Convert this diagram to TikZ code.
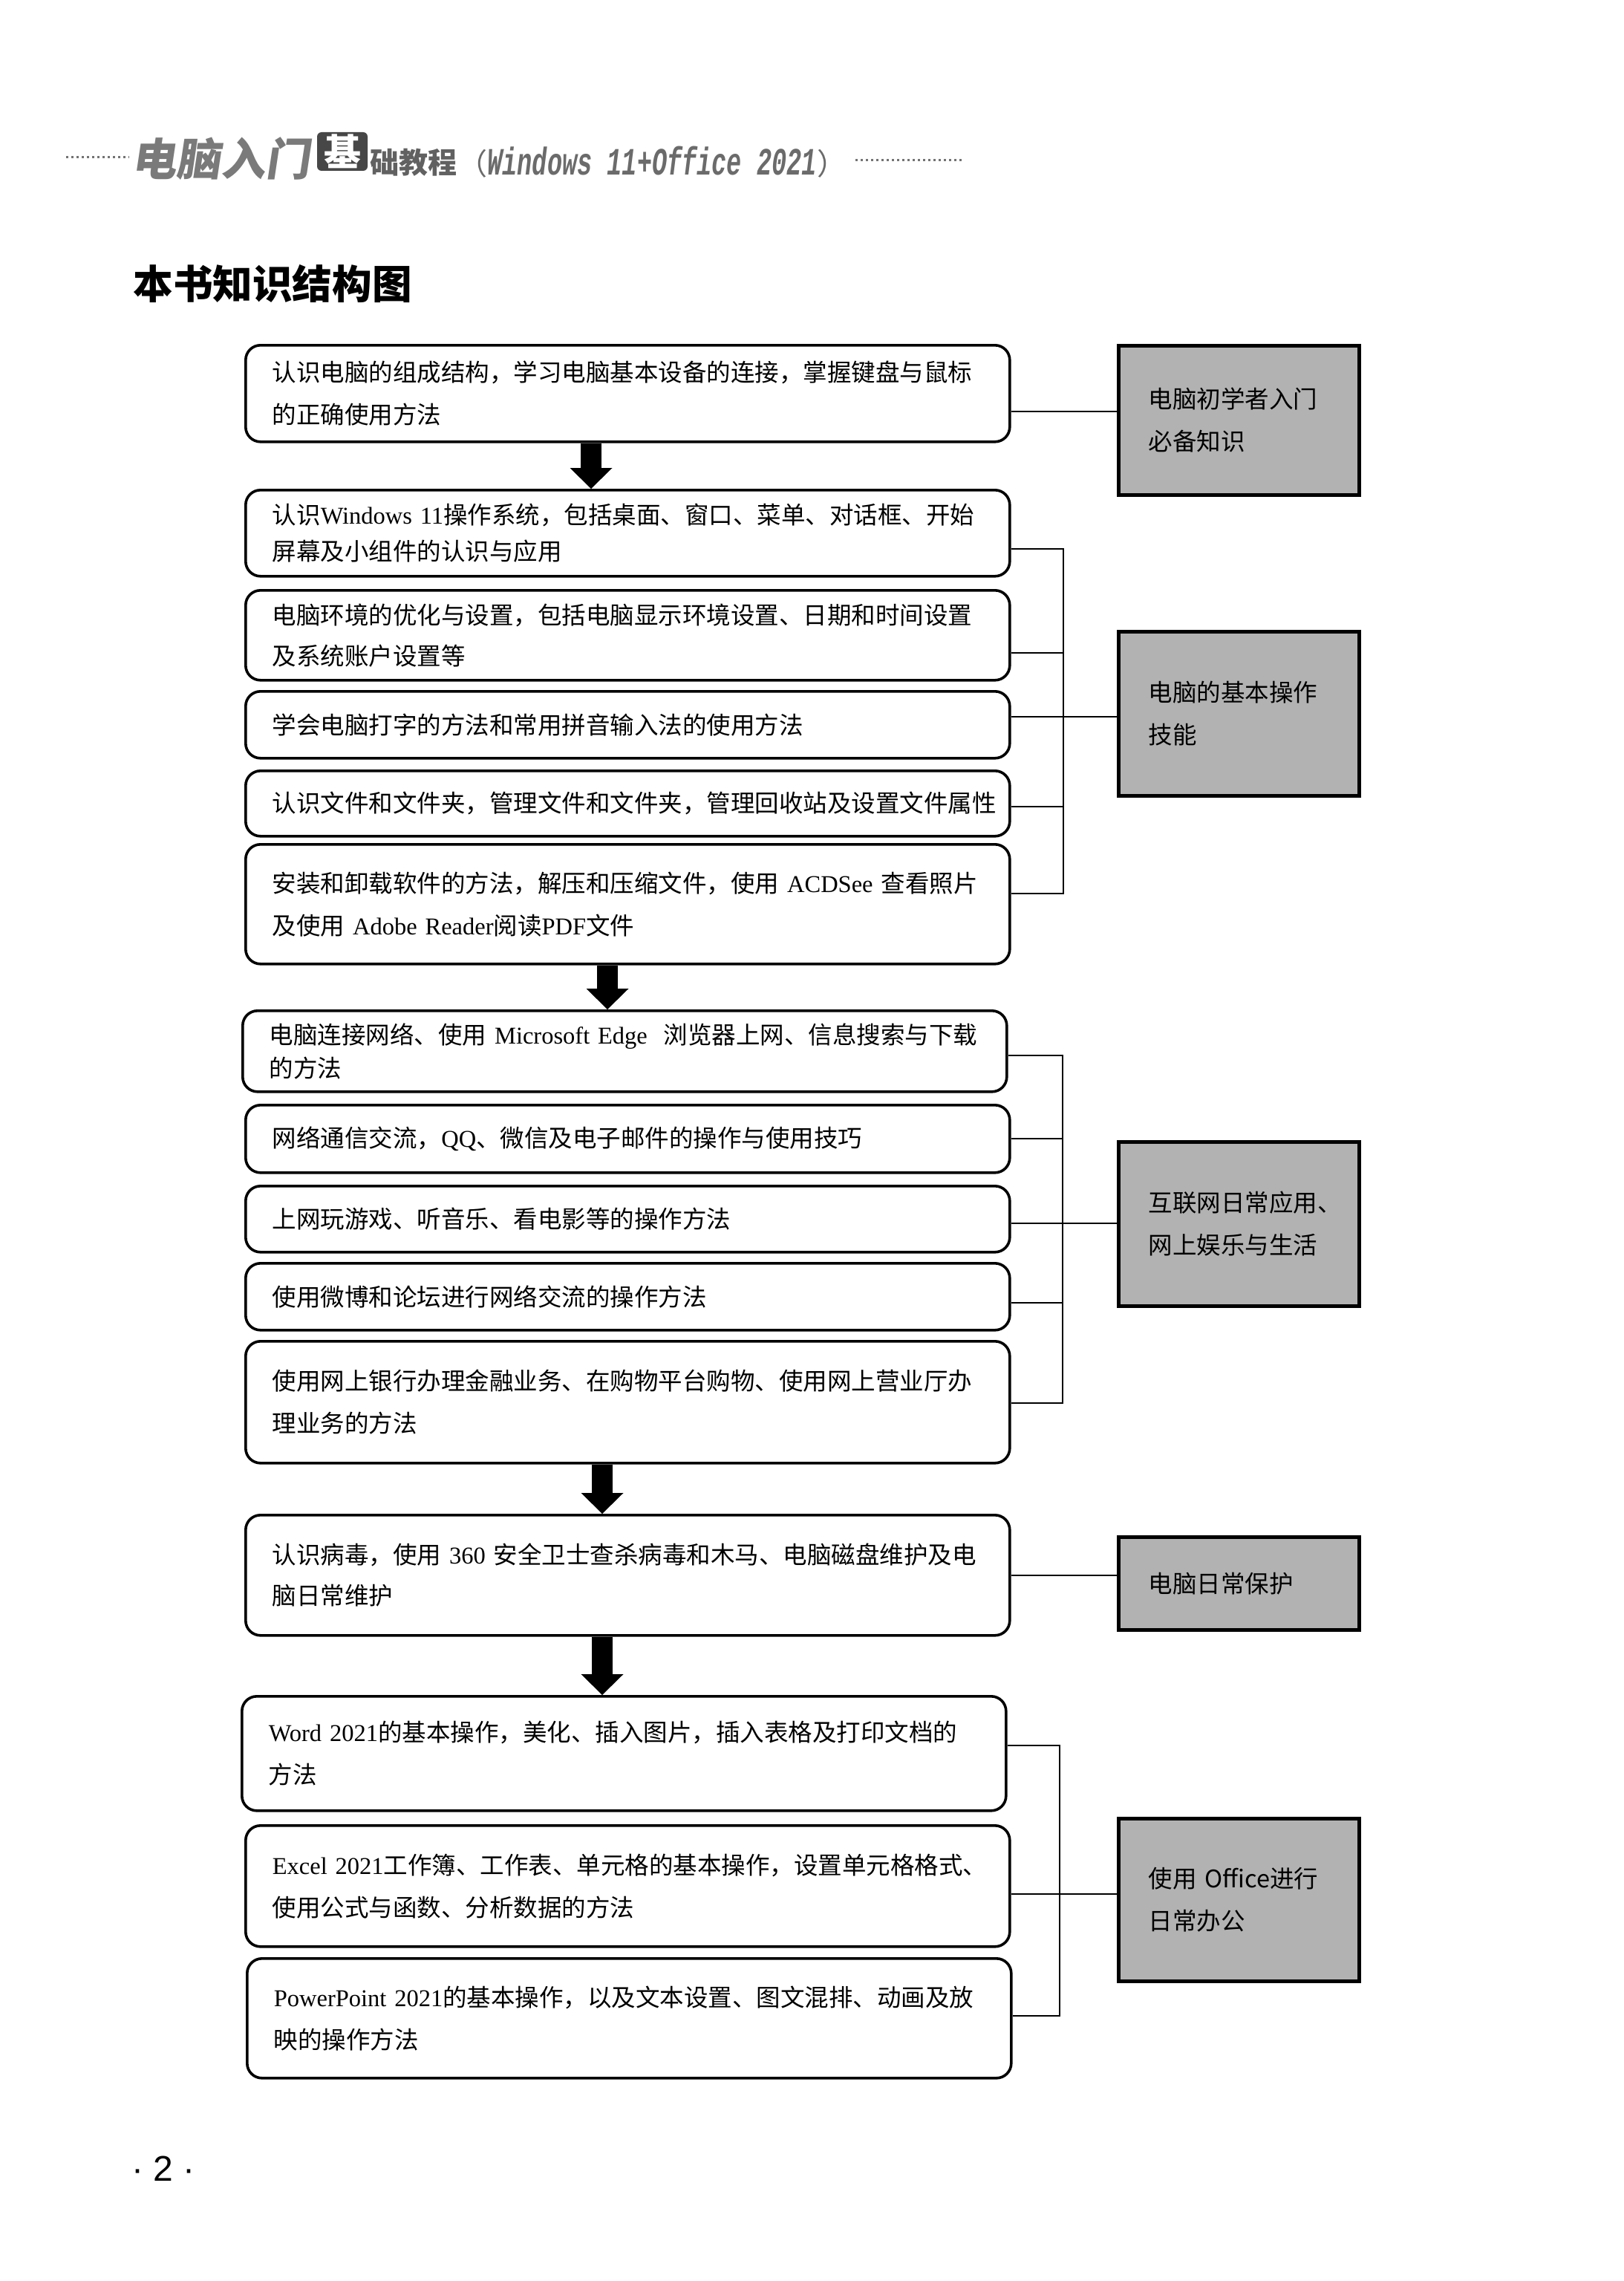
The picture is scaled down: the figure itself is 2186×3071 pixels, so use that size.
\documentclass[tikz,border=0pt]{standalone}
\usepackage{fontspec}
\usepackage{graphicx}
\usetikzlibrary{arrows.meta}
\setmainfont{Liberation Serif}
\newfontfamily\cjk{Noto Sans CJK SC}
\newfontfamily\lat{Liberation Serif}
\newfontfamily\sansf{Liberation Sans}
\newfontfamily\monof{Liberation Mono}
\newlength\pxu \setlength\pxu{0.5pt}
\newcommand\fsz[2]{\fontsize{#1}{#2}\selectfont}
\definecolor{boxgray}{RGB}{178,178,178}
\tikzset{
  lbox/.style={draw, line width=1.8pt, rounded corners=10pt, anchor=north west, align=left,
    text width=478.5pt, inner xsep=18pt, inner ysep=0pt, font=\cjk\fsz{16.25pt}{28.5pt}},
  rbox/.style={draw, line width=2.5pt, fill=boxgray, anchor=north west, align=left,
    text width=122pt, inner xsep=20pt, inner ysep=0pt, minimum width=324\pxu, font=\cjk\fsz{16.25pt}{28.5pt}},
  conn/.style={line width=1.1pt},
  bigarrow/.style={line width=14pt, -{Triangle[width=28.5pt,length=14pt,line width=0pt]}},
  hdot/.style={line width=1.5pt, black!55, dash pattern=on 1.5pt off 2pt}
}
\begin{document}
\begin{tikzpicture}[x=0.5pt,y=-0.5pt]
\fill[white] (0,0) rectangle (2186,3071);
\useasboundingbox (0,0) rectangle (2186,3071);

% header
\draw[hdot] (89,212) -- (174,212);
\begin{scope}[shift={(181,214)}, xslant=0.15]
\node[anchor=west, transform shape, text=black!52, font=\cjk\bfseries\fsz{30pt}{30pt}, inner sep=0pt] (h1) at (0,0) {电脑入门};
\end{scope}
\node[fill=black!72, rounded corners=3pt, text=white, font=\cjk\bfseries\fsz{25pt}{25pt}, inner sep=0pt, minimum width=68\pxu, minimum height=52\pxu] (h2) at (461,204) {基};
\node[anchor=west, text=black!62, font=\cjk\bfseries\fsz{19.5pt}{19.5pt}, inner sep=0pt] (h3) at (498,219) {础教程};
\node[anchor=west, text=black!58, inner sep=0pt] (h4) at (616,218) {{\cjk\fsz{20pt}{20pt}（}\scalebox{1}[1.55]{\monof\bfseries\itshape\fsz{16.8pt}{16.8pt}Windows 11+Office 2021}{\cjk\fsz{20pt}{20pt}）}};
\draw[hdot] (1152,216) -- (1295,216);

% title
\node[anchor=west, font=\cjk\bfseries\fsz{26.8pt}{26.8pt}, inner sep=0pt] (title) at (179,382) {本书知识结构图};

% left boxes
\node[lbox, minimum height=130\pxu] (b1) at (329,463) {认识电脑的组成结构，学习电脑基本设备的连接，掌握键盘与鼠标\\的正确使用方法};
\node[lbox, minimum height=116\pxu, font=\cjk\fsz{16.25pt}{24.5pt}] (b2) at (329,658) {认识{\lat Windows~11}操作系统，包括桌面、窗口、菜单、对话框、开始\\屏幕及小组件的认识与应用};
\node[lbox, minimum height=121\pxu, font=\cjk\fsz{16.25pt}{27.5pt}] (b3) at (329,793) {电脑环境的优化与设置，包括电脑显示环境设置、日期和时间设置\\及系统账户设置等};
\node[lbox, minimum height=90\pxu] (b4) at (329,929) {学会电脑打字的方法和常用拼音输入法的使用方法};
\node[lbox, minimum height=88\pxu] (b5) at (329,1036) {认识文件和文件夹，管理文件和文件夹，管理回收站及设置文件属性};
\node[lbox, minimum height=161\pxu] (b6) at (329,1135) {安装和卸载软件的方法，解压和压缩文件，使用~{\lat ACDSee}~查看照片\\及使用~{\lat Adobe~Reader}阅读{\lat PDF}文件};
\node[lbox, minimum height=109\pxu, font=\cjk\fsz{16.25pt}{22.5pt}] (b7) at (325,1359) {电脑连接网络、使用~{\lat Microsoft~Edge}~~浏览器上网、信息搜索与下载\\的方法};
\node[lbox, minimum height=91\pxu] (b8) at (329,1486) {网络通信交流，{\lat QQ}、微信及电子邮件的操作与使用技巧};
\node[lbox, minimum height=89\pxu] (b9) at (329,1595) {上网玩游戏、听音乐、看电影等的操作方法};
\node[lbox, minimum height=90\pxu] (b10) at (329,1699) {使用微博和论坛进行网络交流的操作方法};
\node[lbox, minimum height=164\pxu] (b11) at (329,1804) {使用网上银行办理金融业务、在购物平台购物、使用网上营业厅办\\理业务的方法};
\node[lbox, minimum height=162\pxu, font=\cjk\fsz{16.25pt}{27.5pt}] (b12) at (329,2038) {认识病毒，使用~{\lat 360}~安全卫士查杀病毒和木马、电脑磁盘维护及电\\脑日常维护};
\node[lbox, minimum height=154\pxu] (b13) at (324,2282) {{\lat Word~2021}的基本操作，美化、插入图片，插入表格及打印文档的\\方法};
\node[lbox, minimum height=163\pxu] (b14) at (329,2456) {{\lat Excel~2021}工作簿、工作表、单元格的基本操作，设置单元格格式、\\使用公式与函数、分析数据的方法};
\node[lbox, minimum height=161\pxu] (b15) at (331,2635) {{\lat PowerPoint~2021}的基本操作，以及文本设置、图文混排、动画及放\\映的操作方法};

% right boxes
\node[rbox, minimum height=201\pxu] (r1) at (1504,463) {电脑初学者入门\\必备知识};
\node[rbox, minimum height=221\pxu] (r2) at (1504,848) {电脑的基本操作\\技能};
\node[rbox, minimum height=221\pxu] (r3) at (1504,1535) {互联网日常应用、\\网上娱乐与生活};
\node[rbox, minimum height=125\pxu] (r4) at (1504,2067) {电脑日常保护};
\node[rbox, minimum height=219\pxu] (r5) at (1504,2446) {使用~Office进行\\日常办公};

% arrows
\coordinate (ax1) at (796,0);
\coordinate (ax2) at (818,0);
\coordinate (ax3) at (811,0);
\draw[bigarrow] (b1.south -| ax1) -- (b2.north -| ax1);
\draw[bigarrow] (b6.south -| ax2) -- (b7.north -| ax2);
\draw[bigarrow] (b11.south -| ax3) -- (b12.north -| ax3);
\draw[bigarrow] (b12.south -| ax3) -- (b13.north -| ax3);

% group 1
\coordinate (k1) at (1430,554);
\draw[conn] (b1.east |- k1) -- (r1.west |- k1);

% group 2
\coordinate (k2) at (1432,739);
\coordinate (k3) at (1432,879);
\coordinate (k4) at (1432,965);
\coordinate (k5) at (1432,1086);
\coordinate (k6) at (1432,1203);
\draw[conn] (b2.east |- k2) -- (k2) -- (k6) -- (b6.east |- k6);
\draw[conn] (b3.east |- k3) -- (k3);
\draw[conn] (b4.east |- k4) -- (r2.west |- k4);
\draw[conn] (b5.east |- k5) -- (k5);

% group 3
\coordinate (k7) at (1431,1421);
\coordinate (k8) at (1431,1533);
\coordinate (k9) at (1431,1647);
\coordinate (k10) at (1431,1754);
\coordinate (k11) at (1431,1889);
\draw[conn] (b7.east |- k7) -- (k7) -- (k11) -- (b11.east |- k11);
\draw[conn] (b8.east |- k8) -- (k8);
\draw[conn] (b9.east |- k9) -- (r3.west |- k9);
\draw[conn] (b10.east |- k10) -- (k10);

% group 4
\coordinate (k12) at (1430,2121);
\draw[conn] (b12.east |- k12) -- (r4.west |- k12);

% group 5
\coordinate (k13) at (1427,2350);
\coordinate (k14) at (1427,2550);
\coordinate (k15) at (1427,2714);
\draw[conn] (b13.east |- k13) -- (k13) -- (k15) -- (b15.east |- k15);
\draw[conn] (b14.east |- k14) -- (r5.west |- k14);

% page number
\node[font=\sansf\fsz{24pt}{24pt}, inner sep=0pt] (pg) at (220,2920) {· 2 ·};
\end{tikzpicture}
\end{document}
